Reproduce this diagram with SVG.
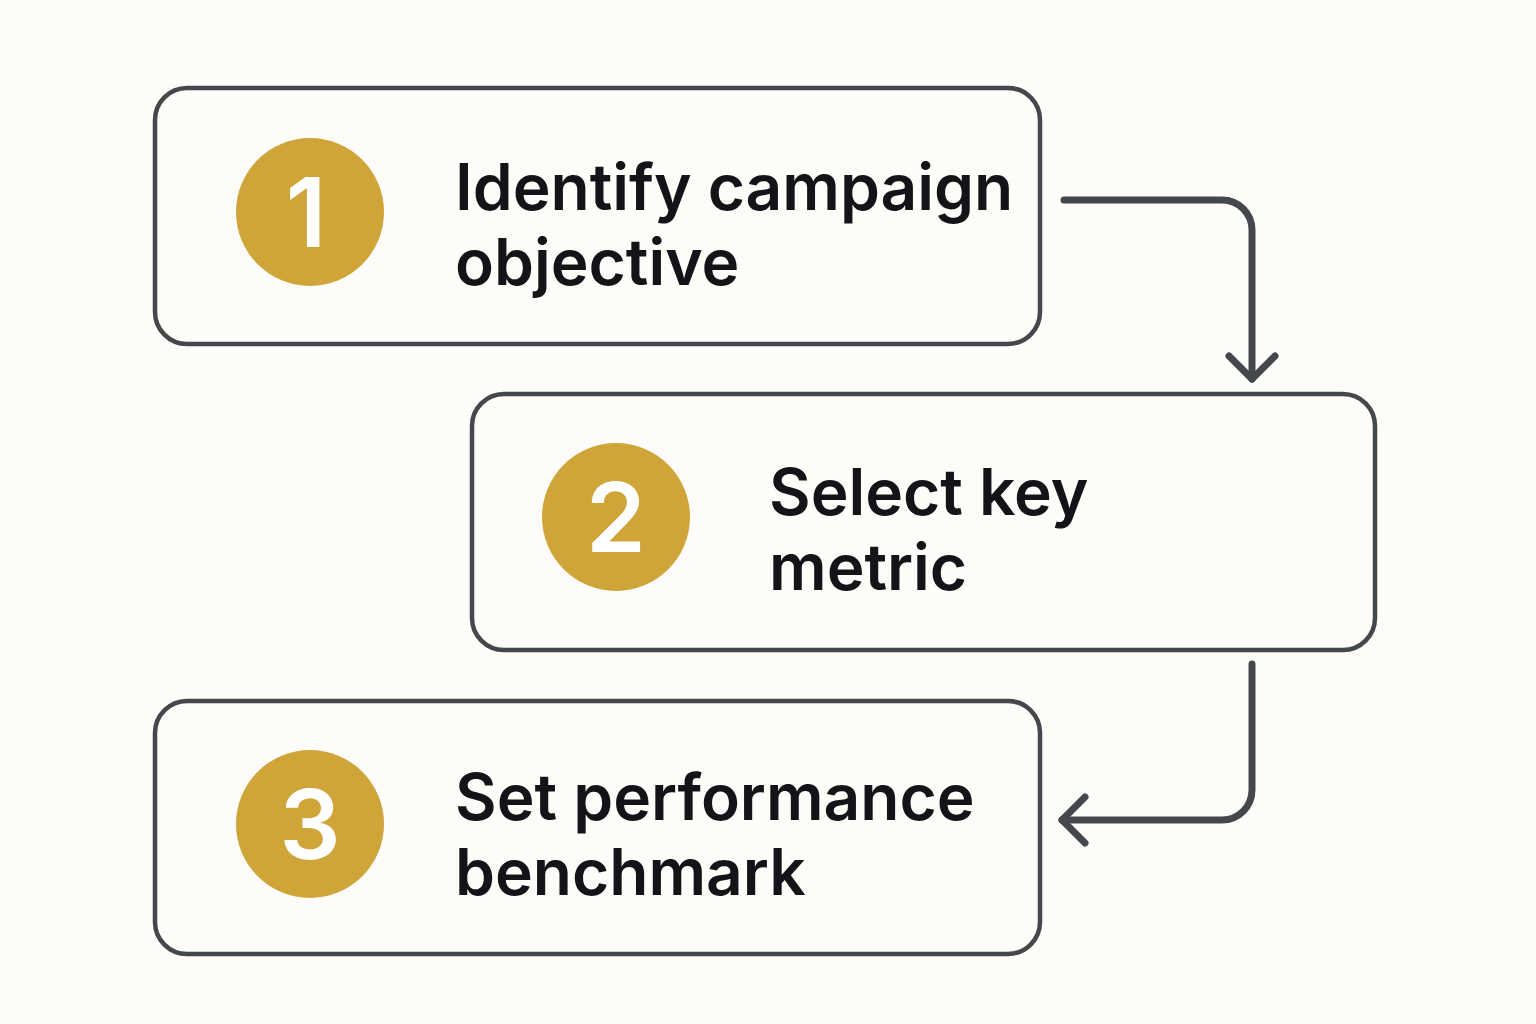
<svg xmlns="http://www.w3.org/2000/svg" width="1536" height="1024" viewBox="0 0 1536 1024">
<style>
.box{fill:#fdfcf8;stroke:#44474c;stroke-width:4.5}
.badge{fill:#cfa53a}
.num{font-family:Inter,"Liberation Sans",sans-serif;font-weight:600;font-size:96px;fill:#ffffff;text-anchor:middle}
.lbl{font-family:Inter,"Liberation Sans",sans-serif;font-weight:600;font-size:64px;fill:#121418}
.conn{fill:none;stroke:#44474c;stroke-width:7;stroke-linecap:round;stroke-linejoin:round}
</style>
<rect width="1536" height="1024" fill="#fdfcf8"/>
<g id="node1">
<rect class="box" x="155" y="88" width="885" height="256" rx="32"/>
<circle class="badge" cx="310" cy="212" r="74"/>
<text class="num" x="306" y="247">1</text>
<text class="lbl" x="455" y="210">Identify campaign</text>
<text class="lbl" x="455" y="285">objective</text>
</g>
<g id="node2">
<rect class="box" x="472" y="394" width="903" height="256" rx="32"/>
<circle class="badge" cx="616" cy="517" r="74"/>
<text class="num" x="616" y="552">2</text>
<text class="lbl" x="769" y="515">Select key</text>
<text class="lbl" x="769" y="590">metric</text>
</g>
<g id="node3">
<rect class="box" x="155" y="701" width="885" height="253" rx="32"/>
<circle class="badge" cx="310" cy="824" r="74"/>
<text class="num" x="310" y="859">3</text>
<text class="lbl" x="455" y="820">Set performance</text>
<text class="lbl" x="455" y="895">benchmark</text>
</g>
<g id="connectors">
<path class="conn" d="M1064 200 H1222 A30 30 0 0 1 1252 230 V379"/>
<path class="conn" d="M1229 356 L1252 379 L1275 356"/>
<path class="conn" d="M1252 664 V790 A30 30 0 0 1 1222 820 H1062"/>
<path class="conn" d="M1085 797 L1062 820 L1085 843"/>
</g>
</svg>
